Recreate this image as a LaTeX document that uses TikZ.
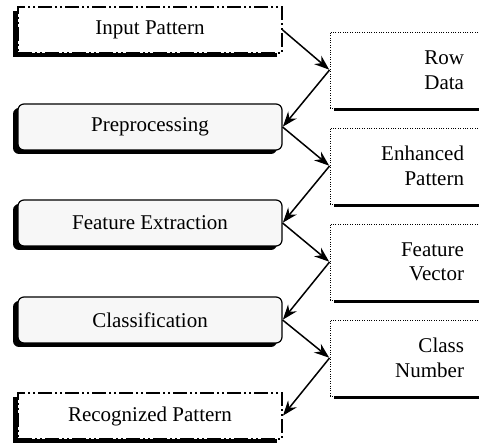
\documentclass[tikz,border=0pt]{standalone}
\usepackage{fontspec}
\setmainfont{Liberation Serif}
\newfontfamily\diagfont{Liberation Serif}
\usetikzlibrary{arrows.meta,shadows}
\begin{document}
\begin{tikzpicture}[x=1pt,y=1pt,
  every node/.style={font=\diagfont\fontsize{21}{24.5}\selectfont},
  leftbox/.style={minimum width=264pt,minimum height=46pt,inner sep=0pt,
    drop shadow={shadow xshift=-5pt,shadow yshift=-4pt,fill=black,opacity=1}},
  procbox/.style={leftbox,draw,line width=1.2pt,rounded corners=6pt,fill=black!3},
  termbox/.style={leftbox,draw,line width=1.3pt,fill=white,
    dash pattern=on 14pt off 3pt on 2pt off 3pt on 2pt off 3pt},
  databox/.style={draw,line width=0.9pt,fill=white,dash pattern=on 1pt off 1.4pt,
    minimum height=76pt,text width=118pt,inner xsep=16pt,inner ysep=0pt,align=right,
    drop shadow={shadow xshift=4pt,shadow yshift=-3pt,fill=black,opacity=1}},
  arr/.style={-{Stealth[length=15pt,width=11pt]},line width=1.5pt,shorten >=0.5pt}
]
\useasboundingbox (0,0) rectangle (479,444);
\node[termbox] (in)  at (150,414) {Input Pattern};
\node[procbox] (pre) at (150,317) {Preprocessing};
\node[procbox] (fe)  at (150,221) {Feature Extraction};
\node[procbox] (cl)  at (150,124) {Classification};
\node[termbox] (rec) at (150,28)  {Recognized Pattern};
\node[databox] (rd) at (405,374) {Row\\Data};
\node[databox] (ep) at (405,278) {Enhanced\\Pattern};
\node[databox] (fv) at (405,182) {Feature\\Vector};
\node[databox] (cn) at (405,86)  {Class\\Number};
\draw[arr] (in.east) -- (rd.west);
\draw[arr] (rd.west) -- (pre.east);
\draw[arr] (pre.east) -- (ep.west);
\draw[arr] (ep.west) -- (fe.east);
\draw[arr] (fe.east) -- (fv.west);
\draw[arr] (fv.west) -- (cl.east);
\draw[arr] (cl.east) -- (cn.west);
\draw[arr] (cn.west) -- (rec.east);
\end{tikzpicture}
\end{document}
